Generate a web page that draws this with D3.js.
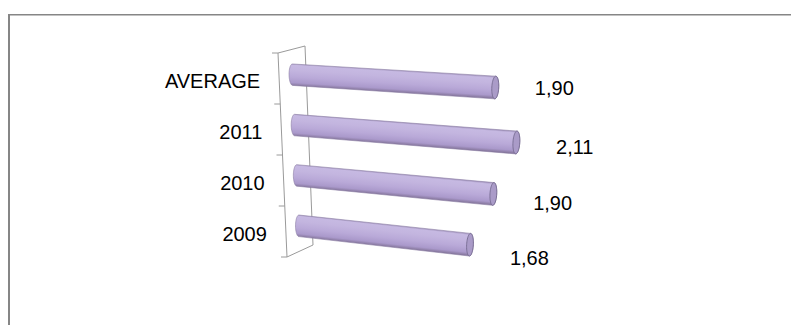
<!DOCTYPE html>
<html><head><meta charset="utf-8">
<script src="https://cdn.jsdelivr.net/npm/d3@7"></script>
<style>
body{margin:0;background:#fff;}
svg{display:block;font-family:"Liberation Sans",Arial,Helvetica,sans-serif;}
</style>
</head><body>
<svg id="chart" width="791" height="325"></svg>
<script>
// ---- data ----
const categories = ["AVERAGE", "2011", "2010", "2009"];
const values = [1.90, 2.11, 1.90, 1.68];
const valueLabels = ["1,90", "2,11", "1,90", "1,68"];

// ---- scales / 3D-ish projection ----
const svg = d3.select("#chart");
const cat = d3.scaleBand().domain(categories).range([0, 1]).padding(0);
// front wall plane (z=0, value=0) along category fraction t
const frontX = d3.scaleLinear().domain([0, 1]).range([278, 287]);
const frontY = d3.scaleLinear().domain([0, 1]).range([53, 257]);
// depth vector (z = 0 front -> 1 back)
const depthX = d3.scaleLinear().domain([0, 1]).range([27, 26]);
const depthY = d3.scaleLinear().domain([0, 1]).range([-7, -12]);
// value direction: screen displacement per value unit
const unitX = d3.scaleLinear().domain([0, 1]).range([107.5, 101]);
const unitY = d3.scaleLinear().domain([0, 1]).range([6, 12]);
const val = d3.scaleLinear().domain([0, 1]).range([0, 1]);

function P(v, t, z) {
  const u = val(v);
  return [frontX(t) + z * depthX(t) + u * unitX(t),
          frontY(t) + z * depthY(t) + u * unitY(t)];
}

// ---- frame ----
svg.append("line").attr("x1", 9).attr("y1", 14.5).attr("x2", 9).attr("y2", 330)
  .attr("stroke", "#868686").attr("stroke-width", 2);
svg.append("line").attr("x1", 8).attr("y1", 14.7).attr("x2", 800).attr("y2", 14.7)
  .attr("stroke", "#868686").attr("stroke-width", 1.5);

// ---- wall / axis ----
const wall = svg.append("g").attr("stroke", "#9a9a9a").attr("stroke-width", 1).attr("fill", "none");
const ft = P(0, 0, 0), fb = P(0, 1, 0), bt = P(0, 0, 1), bb = P(0, 1, 1);
wall.append("path").attr("d", d3.line()([ft, fb]));
wall.append("path").attr("d", d3.line()([ft, bt, bb, fb]));
const tickTs = [0].concat(categories.map(d => cat(d) + cat.bandwidth()));
tickTs.forEach(t => {
  const p = P(0, t, 0);
  wall.append("line").attr("x1", p[0] - 6).attr("y1", p[1]).attr("x2", p[0]).attr("y2", p[1]);
});

// ---- bars (cylinders) ----
const defs = svg.append("defs");
const rt = 0.053, rz = 0.13, zb = 0.5;
const N = 48;
categories.forEach((c, i) => {
  const t = cat(c) + cat.bandwidth() / 2;
  const v = values[i];
  const ell = u => d3.range(N).map(k => {
    const a = 2 * Math.PI * k / N;
    return P(u, t + rt * Math.cos(a), zb + rz * Math.sin(a));
  });
  const left = ell(0), right = ell(v);
  const hull = d3.polygonHull(left.concat(right));
  // gradient perpendicular to the bar axis
  const a0 = P(0, t, zb), a1 = P(v, t, zb);
  const dx = a1[0] - a0[0], dy = a1[1] - a0[1], len = Math.hypot(dx, dy);
  const nx = -dy / len, ny = dx / len;
  const mid = P(v / 2, t, zb);
  const h = (P(v / 2, t + rt, zb)[1] - P(v / 2, t - rt, zb)[1]) / 2 * 1.02;
  const gid = "grad" + i;
  const lg = defs.append("linearGradient").attr("id", gid)
    .attr("gradientUnits", "userSpaceOnUse")
    .attr("x1", mid[0] - nx * h).attr("y1", mid[1] - ny * h)
    .attr("x2", mid[0] + nx * h).attr("y2", mid[1] + ny * h);
  [[0, "#a597c0"], [0.08, "#c6b9e2"], [0.3, "#c3b5df"], [0.6, "#b9a9d8"], [0.85, "#aa99cb"], [1, "#837499"]]
    .forEach(s => lg.append("stop").attr("offset", s[0]).attr("stop-color", s[1]));
  svg.append("path").attr("d", "M" + hull.join("L") + "Z")
    .attr("fill", "url(#" + gid + ")").attr("stroke", "#8a7ca3").attr("stroke-width", 0.6);
  svg.append("path").attr("d", "M" + right.join("L") + "Z")
    .attr("fill", "#aa9bc8").attr("stroke", "#6f6489").attr("stroke-width", 0.8);

  // value label
  const lp = P(v, t, 0);
  svg.append("text").attr("x", lp[0] + 53).attr("y", lp[1] + 2 + 14 * t)
    .attr("font-size", 20).attr("fill", "#000").text(valueLabels[i]);
  // category label
  const cp = P(0, t, 0);
  svg.append("text").attr("x", cp[0] - 19).attr("y", cp[1] + 9.5)
    .attr("text-anchor", "end").attr("font-size", 20).attr("fill", "#000").text(c);
});
</script>
</body></html>
